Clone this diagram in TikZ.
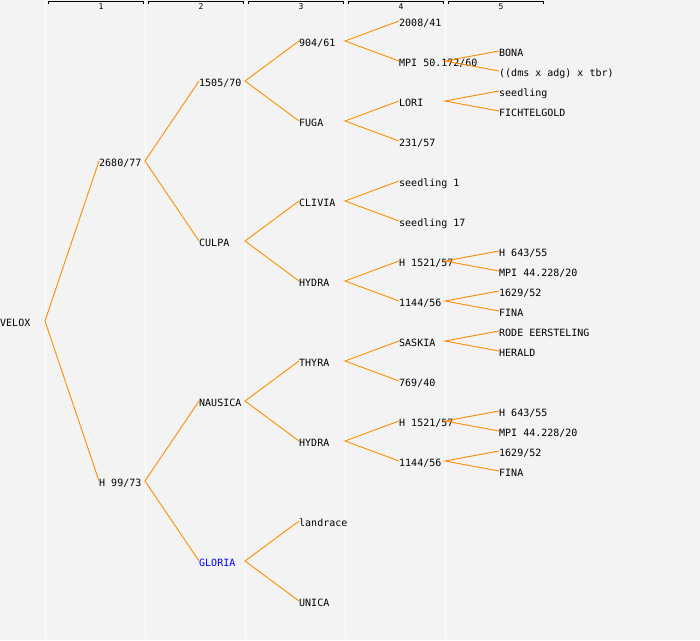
\documentclass[tikz,border=0pt]{standalone}
\usepackage{fontspec}
\newfontfamily\dmono{DejaVu Sans Mono}
\definecolor{bgc}{RGB}{243,243,243}
\definecolor{conc}{RGB}{255,140,0}
\definecolor{gloc}{RGB}{0,0,255}
\tikzset{
  lbl/.style={anchor=west,inner sep=0pt,text height=11.5pt,text depth=0pt,font=\fontsize{10}{12}\selectfont\dmono},
  conn/.style={draw=conc,line width=0.9pt},
  sep/.style={draw=white,line width=1pt},
  brk/.style={draw=black,line width=1pt},
  hnum/.style={inner sep=0pt,font=\fontsize{8}{9}\selectfont\dmono}
}
\begin{document}
\begin{tikzpicture}[x=1pt,y=-1pt]
\fill[bgc] (0,0) rectangle (700,640);
\useasboundingbox (0,0) rectangle (700,640);
% column separators
\foreach \k in {0,...,4}{
  \draw[sep] (45+100*\k,0) -- (45+100*\k,638);
  \draw[brk] (48+100*\k,3.5) -- (48+100*\k,1.5) -- (143+100*\k,1.5) -- (143+100*\k,3.5);
}
\node[hnum] (h1) at (101,6.5) {1};
\node[hnum] (h2) at (201,6.5) {2};
\node[hnum] (h3) at (301,6.5) {3};
\node[hnum] (h4) at (401,6.5) {4};
\node[hnum] (h5) at (501,6.5) {5};
% level 0
\node[lbl] (v) at (0,321) {VELOX};
\coordinate (vo) at (45,321);
% level 1
\node[lbl] (a) at (99,161) {2680/77}; \coordinate (ao) at (145,161);
\node[lbl] (b) at (99,481) {H 99/73}; \coordinate (bo) at (145,481);
% level 2
\node[lbl] (a1) at (199,81) {1505/70}; \coordinate (a1o) at (245,81);
\node[lbl] (a2) at (199,241) {CULPA}; \coordinate (a2o) at (245,241);
\node[lbl] (b1) at (199,401) {NAUSICA}; \coordinate (b1o) at (245,401);
\node[lbl,text=gloc] (b2) at (199,561) {GLORIA}; \coordinate (b2o) at (245,561);
% level 3
\node[lbl] (c1) at (299,41) {904/61}; \coordinate (c1o) at (345,41);
\node[lbl] (c2) at (299,121) {FUGA}; \coordinate (c2o) at (345,121);
\node[lbl] (c3) at (299,201) {CLIVIA}; \coordinate (c3o) at (345,201);
\node[lbl] (c4) at (299,281) {HYDRA}; \coordinate (c4o) at (345,281);
\node[lbl] (c5) at (299,361) {THYRA}; \coordinate (c5o) at (345,361);
\node[lbl] (c6) at (299,441) {HYDRA}; \coordinate (c6o) at (345,441);
\node[lbl] (c7) at (299,521) {landrace};
\node[lbl] (c8) at (299,601) {UNICA};
% level 4
\node[lbl] (d1) at (399,21) {2008/41};
\node[lbl] (d2) at (399,61) {MPI 50.172/60}; \coordinate (d2o) at (445,61);
\node[lbl] (d3) at (399,101) {LORI}; \coordinate (d3o) at (445,101);
\node[lbl] (d4) at (399,141) {231/57};
\node[lbl] (d5) at (399,181) {seedling 1};
\node[lbl] (d6) at (399,221) {seedling 17};
\node[lbl] (d7) at (399,261) {H 1521/57}; \coordinate (d7o) at (445,261);
\node[lbl] (d8) at (399,301) {1144/56}; \coordinate (d8o) at (445,301);
\node[lbl] (d9) at (399,341) {SASKIA}; \coordinate (d9o) at (445,341);
\node[lbl] (d10) at (399,381) {769/40};
\node[lbl] (d11) at (399,421) {H 1521/57}; \coordinate (d11o) at (445,421);
\node[lbl] (d12) at (399,461) {1144/56}; \coordinate (d12o) at (445,461);
% level 5
\node[lbl] (e1) at (499,51) {BONA};
\node[lbl] (e2) at (499,71) {((dms x adg) x tbr)};
\node[lbl] (e3) at (499,91) {seedling};
\node[lbl] (e4) at (499,111) {FICHTELGOLD};
\node[lbl] (e5) at (499,251) {H 643/55};
\node[lbl] (e6) at (499,271) {MPI 44.228/20};
\node[lbl] (e7) at (499,291) {1629/52};
\node[lbl] (e8) at (499,311) {FINA};
\node[lbl] (e9) at (499,331) {RODE EERSTELING};
\node[lbl] (e10) at (499,351) {HERALD};
\node[lbl] (e11) at (499,411) {H 643/55};
\node[lbl] (e12) at (499,431) {MPI 44.228/20};
\node[lbl] (e13) at (499,451) {1629/52};
\node[lbl] (e14) at (499,471) {FINA};
% connectors
\draw[conn] (a.west) -- (vo) -- (b.west);
\draw[conn] (a1.west) -- (ao) -- (a2.west);
\draw[conn] (b1.west) -- (bo) -- (b2.west);
\draw[conn] (c1.west) -- (a1o) -- (c2.west);
\draw[conn] (c3.west) -- (a2o) -- (c4.west);
\draw[conn] (c5.west) -- (b1o) -- (c6.west);
\draw[conn] (c7.west) -- (b2o) -- (c8.west);
\draw[conn] (d1.west) -- (c1o) -- (d2.west);
\draw[conn] (d3.west) -- (c2o) -- (d4.west);
\draw[conn] (d5.west) -- (c3o) -- (d6.west);
\draw[conn] (d7.west) -- (c4o) -- (d8.west);
\draw[conn] (d9.west) -- (c5o) -- (d10.west);
\draw[conn] (d11.west) -- (c6o) -- (d12.west);
\draw[conn] (e1.west) -- (d2o) -- (e2.west);
\draw[conn] (e3.west) -- (d3o) -- (e4.west);
\draw[conn] (e5.west) -- (d7o) -- (e6.west);
\draw[conn] (e7.west) -- (d8o) -- (e8.west);
\draw[conn] (e9.west) -- (d9o) -- (e10.west);
\draw[conn] (e11.west) -- (d11o) -- (e12.west);
\draw[conn] (e13.west) -- (d12o) -- (e14.west);
\end{tikzpicture}
\end{document}
